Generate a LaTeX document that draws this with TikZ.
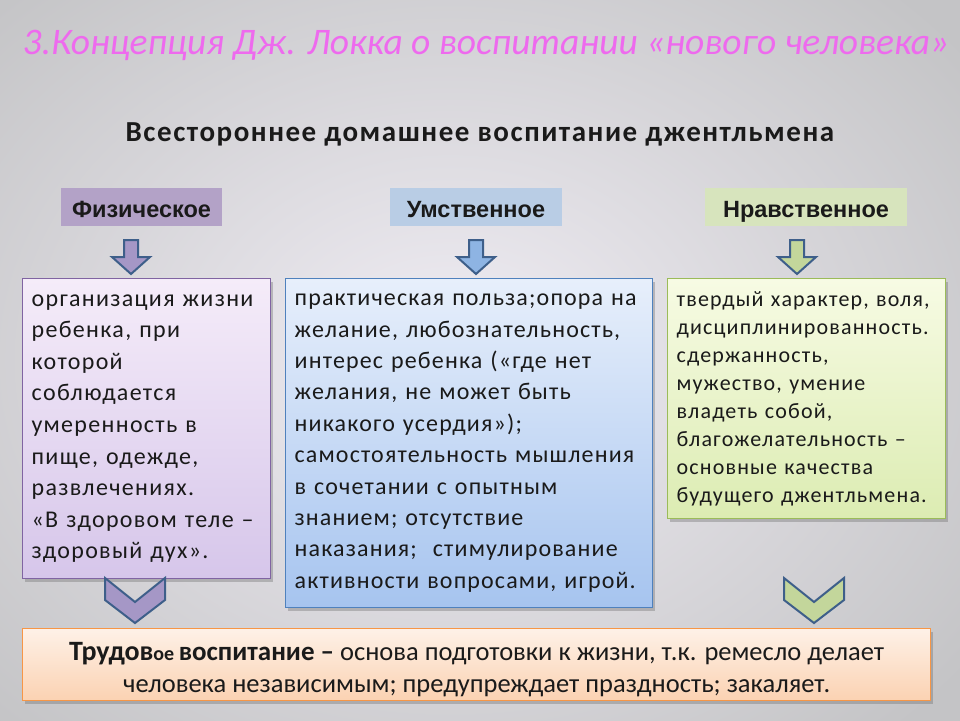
\documentclass[tikz,border=0pt]{standalone}
\usepackage{fontspec}
\setmainfont{Carlito}
\newfontfamily\hdfont{Liberation Sans}
\usetikzlibrary{shadows}
\definecolor{titlepink}{HTML}{EE6AEE}
\definecolor{hdpurple}{HTML}{B3A2C7}
\definecolor{hdblue}{HTML}{B9CDE5}
\definecolor{hdgreen}{HTML}{D7E4BD}
\definecolor{arpurple}{HTML}{A597C6}
\definecolor{arblue}{HTML}{8EB4E3}
\definecolor{argreen}{HTML}{C3D69B}
\definecolor{arline}{HTML}{3E5F8A}
\definecolor{txt}{HTML}{1A1A1A}
\tikzset{
  every node/.style={text=txt},
  hdbox/.style={minimum height=38pt, inner sep=0pt, text height=20pt, text depth=0pt,
     font={\hdfont\bfseries\fontsize{23.5}{26}\selectfont}},
  arrowshape/.style={draw=arline, line width=2pt, line join=miter},
  textbox/.style={anchor=north west, inner xsep=9pt, inner ysep=0pt, align=left, line width=1.3pt,
     drop shadow={shadow xshift=2pt, shadow yshift=-3pt, opacity=0.35, fill=black!60}},
}
\begin{document}
\begin{tikzpicture}[x=1pt,y=-1pt]
\useasboundingbox (0,0) rectangle (960,720);
\shade[inner color={rgb,255:red,240;green,237;blue,244}, outer color={rgb,255:red,196;green,196;blue,198}] (-200,-150) rectangle (1100,870);
% title
\node[text=titlepink, font={\itshape\fontsize{37.5}{42}\selectfont}] (title) at (486,45) {3.Концепция Дж. Локка о воспитании «нового человека»};
\node[anchor=base, font={\bfseries\fontsize{29}{32}\selectfont\addfontfeatures{LetterSpace=5.3}}] (sub) at (480,141) {Всестороннее домашнее воспитание джентльмена};
% headers
\node[hdbox, fill=hdpurple, minimum width=161pt] (h1) at (141.5,207) {Физическое};
\node[hdbox, fill=hdblue, minimum width=172pt] (h2) at (476,207) {Умственное};
\node[hdbox, fill=hdgreen, minimum width=202pt] (h3) at (806,207) {Нравственное};
% down block arrows
\foreach \cx/\col [count=\i] in {131/arpurple, 476/arblue, 797/argreen}{
  \draw[arrowshape, fill=\col] (\cx-7,240) -- (\cx+7,240) -- (\cx+7,257) -- (\cx+19,257) -- (\cx,274) -- (\cx-19,257) -- (\cx-7,257) -- cycle;
}
% text boxes
\node[textbox, draw={rgb,255:red,128;green,100;blue,162}, top color={rgb,255:red,245;green,236;blue,249}, bottom color={rgb,255:red,214;green,198;blue,234},
  minimum width=248pt, minimum height=300pt, text width=230pt,
  font={\fontsize{24}{31.6}\selectfont\addfontfeatures{LetterSpace=5.5}}] (b1) at (22,278)
  {организация жизни\\ребенка, при\\которой\\соблюдается\\умеренность в\\пище, одежде,\\развлечениях.\\«В здоровом теле –\\здоровый дух».};
\node[textbox, draw={rgb,255:red,79;green,129;blue,189}, top color={rgb,255:red,231;green,239;blue,251}, bottom color={rgb,255:red,166;green,196;blue,239},
  minimum width=367pt, minimum height=329pt, text width=349pt,
  font={\fontsize{24}{31.4}\selectfont\addfontfeatures{LetterSpace=4.8}}] (b2) at (285,278)
  {практическая польза;опора на\\желание, любознательность,\\интерес ребенка («где нет\\желания, не может быть\\никакого усердия»);\\самостоятельность мышления\\в сочетании с опытным\\знанием; отсутствие\\наказания;\ \ стимулирование\\активности вопросами, игрой.};
\node[textbox, draw={rgb,255:red,155;green,187;blue,89}, top color={rgb,255:red,247;green,251;blue,228}, bottom color={rgb,255:red,220;green,236;blue,178},
  minimum width=278pt, minimum height=240pt, text width=260pt,
  font={\fontsize{22}{28}\selectfont\addfontfeatures{LetterSpace=5.3}}] (b3) at (667,278)
  {твердый характер, воля,\\дисциплинированность.\\сдержанность,\\мужество, умение\\владеть собой,\\благожелательность –\\основные качества\\будущего джентльмена.};
% chevrons
\foreach \cx/\col in {135/arpurple, 814/argreen}{
  \draw[arrowshape, fill=\col] (\cx-30,578) -- (\cx,602) -- (\cx+30,578) -- (\cx+30,600) -- (\cx,623) -- (\cx-30,600) -- cycle;
}
% bottom box
\node[anchor=north west, draw={rgb,255:red,247;green,150;blue,70}, line width=1.3pt,
  top color={rgb,255:red,254;green,241;blue,231}, bottom color={rgb,255:red,251;green,210;blue,178},
  drop shadow={shadow xshift=2pt, shadow yshift=-3pt, opacity=0.35, fill=black!60},
  minimum width=908pt, minimum height=72pt, inner sep=0pt] (b4) at (22,628) {};
\node[align=center, inner sep=0pt, font={\fontsize{26.5}{32}\selectfont}] (b4t) at ([yshift=-5pt]b4.center)
  {{\bfseries\fontsize{28}{32}\selectfont Трудов\fontsize{20}{32}\selectfont ое \fontsize{27}{32}\selectfont воспитание –} основа подготовки к жизни, т.к. ремесло делает\\человека независимым; предупреждает праздность; закаляет.};
\end{tikzpicture}
\end{document}
